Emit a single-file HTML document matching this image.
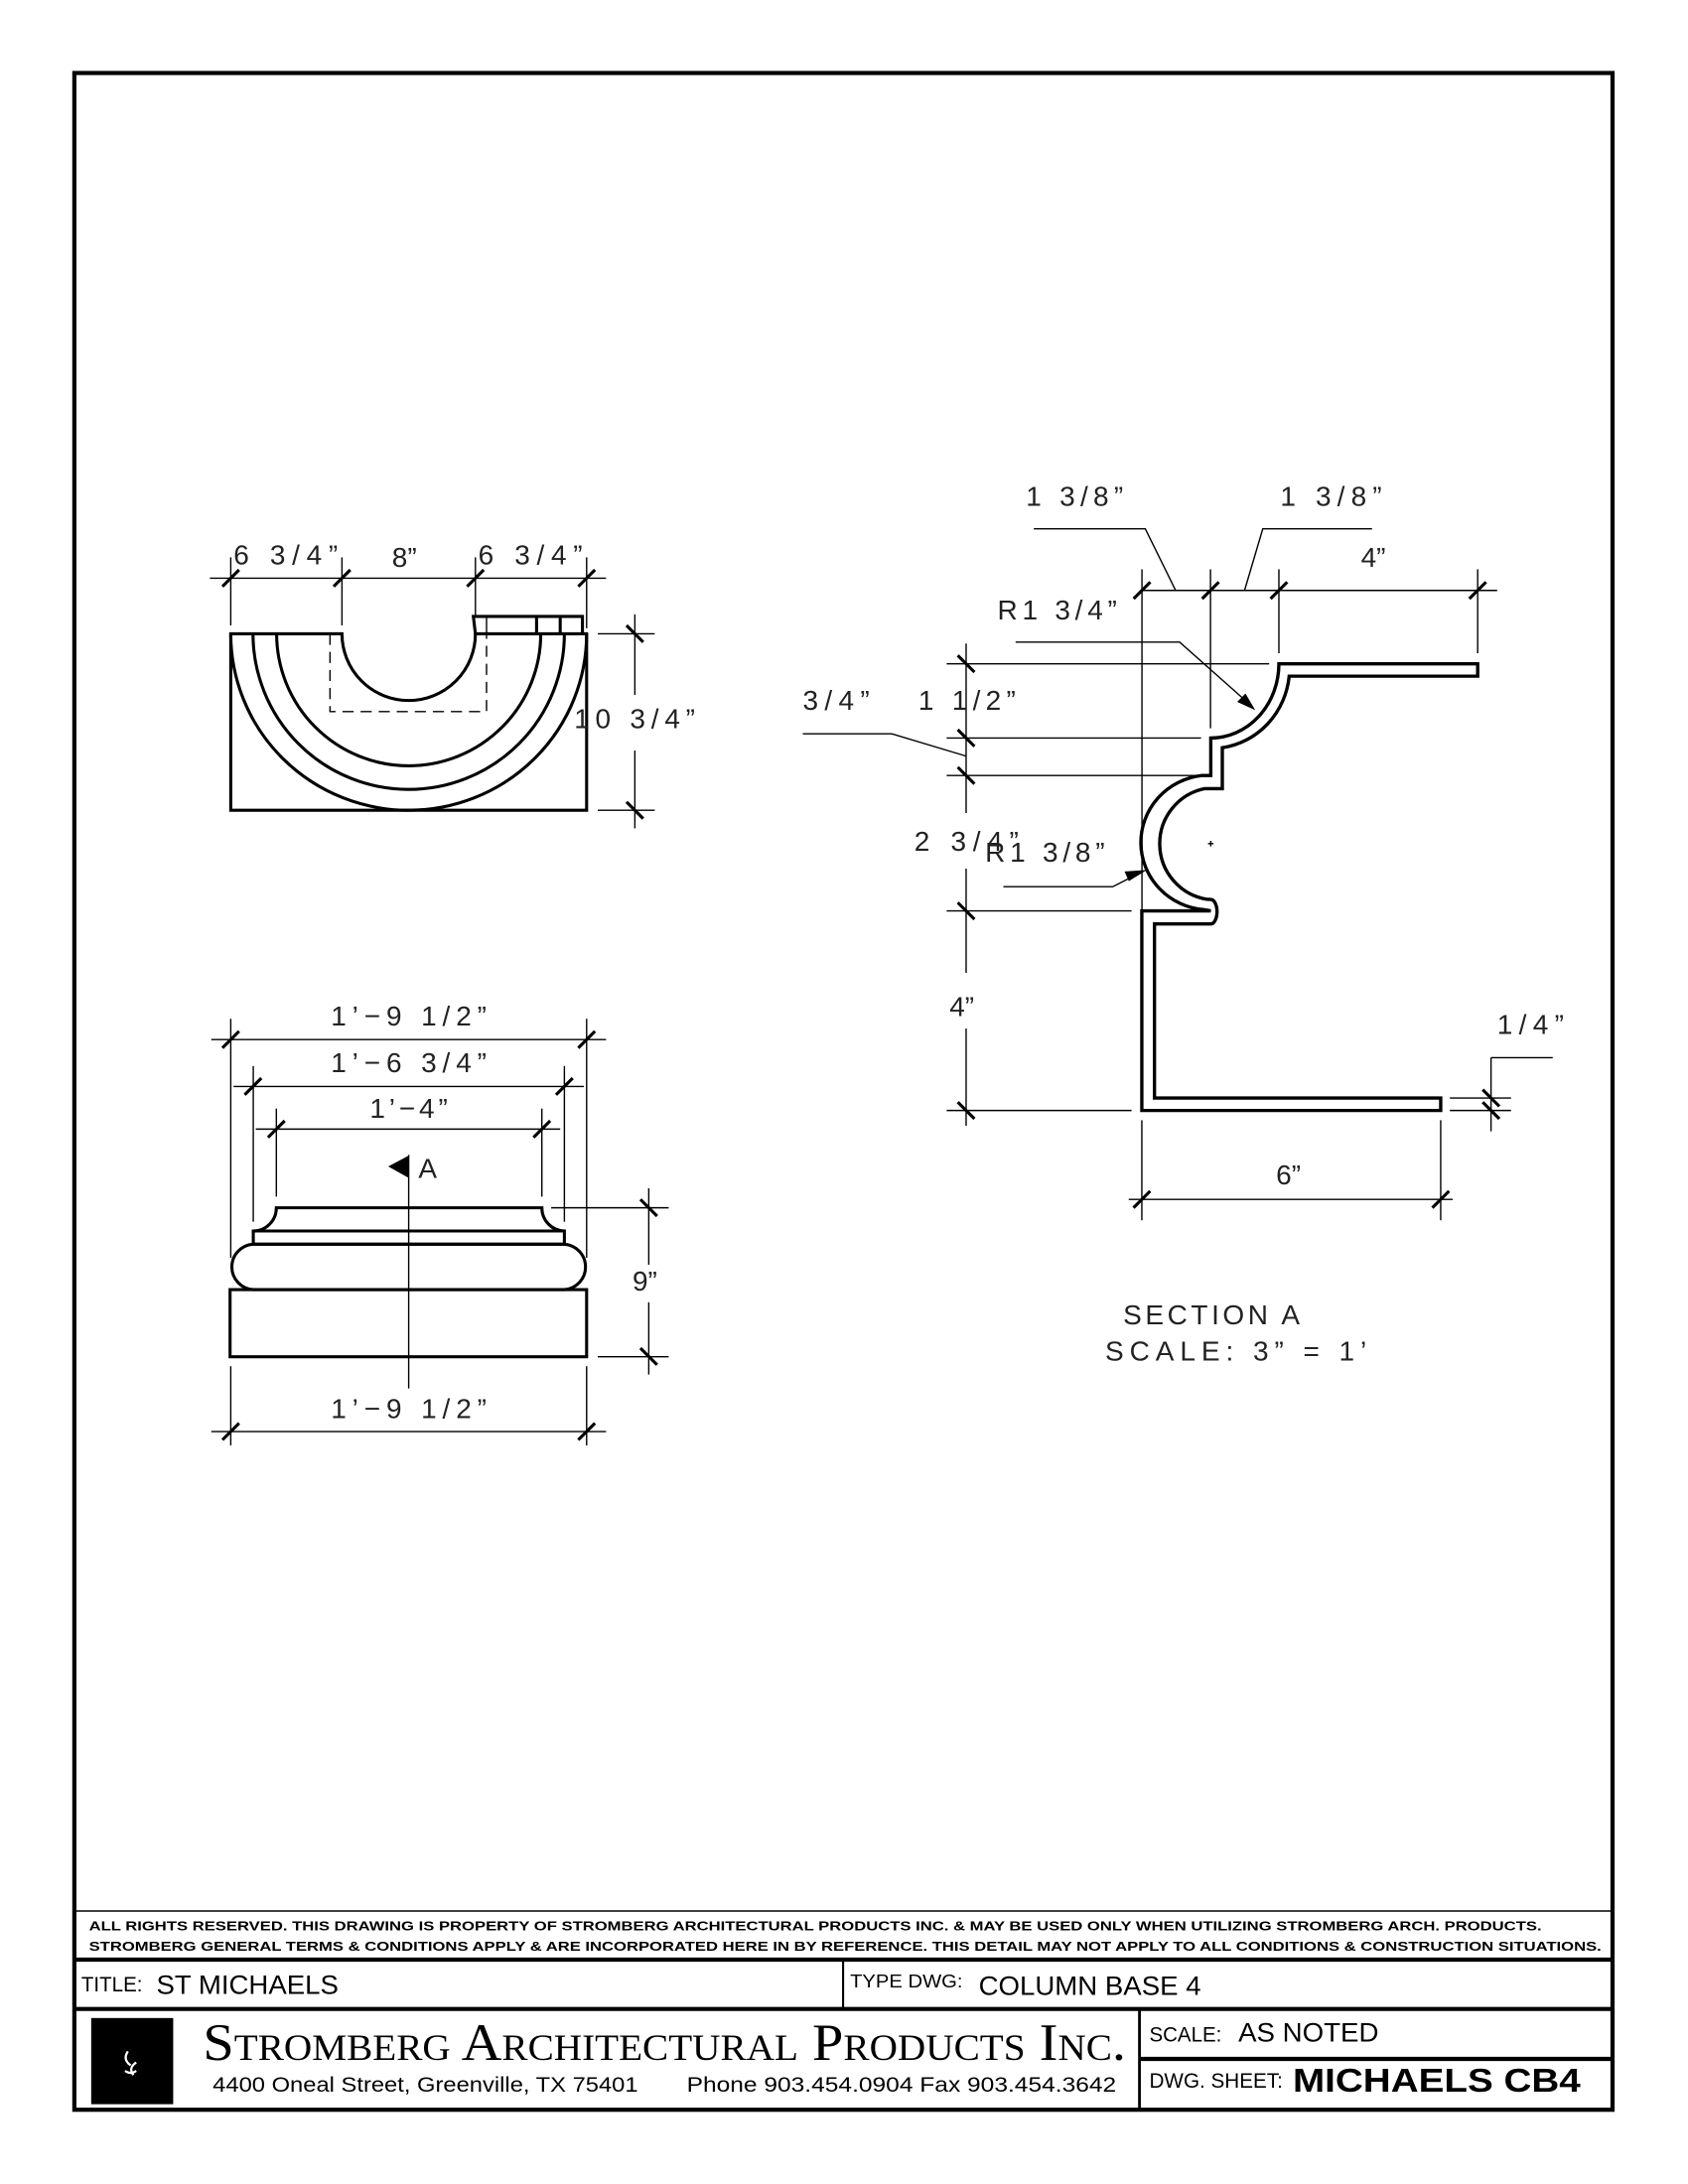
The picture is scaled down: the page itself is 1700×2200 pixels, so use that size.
<!DOCTYPE html>
<html><head><meta charset="utf-8"><style>
html,body{margin:0;padding:0;background:#fff;}
svg{display:block;}
.d{font-family:"Liberation Sans",sans-serif;font-size:20px;fill:#222;}
.t{font-family:"Liberation Sans",sans-serif;fill:#000;}
</style></head><body>
<svg width="1700" height="2200" viewBox="0 0 1214.3 1571.4" xmlns="http://www.w3.org/2000/svg">
<rect x="0" y="0" width="1214.3" height="1571.4" fill="#fff"/>
<!-- frame -->
<rect x="53.5" y="52.5" width="1106.5" height="1465.5" fill="none" stroke="#000" stroke-width="3"/>
<line x1="53.5" y1="1375" x2="1160" y2="1375" stroke="#000" stroke-width="1"/>
<line x1="53.5" y1="1410" x2="1160" y2="1410" stroke="#000" stroke-width="3"/>
<line x1="53.5" y1="1445.5" x2="1160" y2="1445.5" stroke="#000" stroke-width="3"/>
<line x1="606.5" y1="1410" x2="606.5" y2="1445.5" stroke="#000" stroke-width="1.5"/>
<line x1="819.7" y1="1445.5" x2="819.7" y2="1518" stroke="#000" stroke-width="2"/>
<line x1="819.7" y1="1481.4" x2="1160" y2="1481.4" stroke="#000" stroke-width="3"/>

<!-- title block text -->
<text class="t" x="64" y="1389" font-size="9.5" font-weight="bold" textLength="1045" lengthAdjust="spacingAndGlyphs">ALL RIGHTS RESERVED. THIS DRAWING IS PROPERTY OF STROMBERG ARCHITECTURAL PRODUCTS INC. &amp; MAY BE USED ONLY WHEN UTILIZING STROMBERG ARCH. PRODUCTS.</text>
<text class="t" x="64" y="1403.5" font-size="9.5" font-weight="bold" textLength="1088" lengthAdjust="spacingAndGlyphs">STROMBERG GENERAL TERMS &amp; CONDITIONS APPLY &amp; ARE INCORPORATED HERE IN BY REFERENCE. THIS DETAIL MAY NOT APPLY TO ALL CONDITIONS &amp; CONSTRUCTION SITUATIONS.</text>
<text class="t" x="58.5" y="1433" font-size="15" textLength="44" lengthAdjust="spacingAndGlyphs">TITLE:</text>
<text class="t" x="112.5" y="1434.5" font-size="19" textLength="131" lengthAdjust="spacingAndGlyphs">ST MICHAELS</text>
<text class="t" x="611.5" y="1430" font-size="13.5" textLength="81" lengthAdjust="spacingAndGlyphs">TYPE DWG:</text>
<text class="t" x="704" y="1435.5" font-size="19" textLength="160" lengthAdjust="spacingAndGlyphs">COLUMN BASE 4</text>
<rect x="65.6" y="1452" width="59" height="62" fill="#000"/>
<path d="M92 1476 q-4 6 2 10 M98 1484 q-6 4 -2 9 M90 1490 q4 3 8 0" stroke="#fff" stroke-width="1.6" fill="none"/>
<text x="146" y="1482" font-family="'Liberation Serif',serif" font-size="38" font-variant="small-caps" textLength="664" lengthAdjust="spacingAndGlyphs" fill="#000">Stromberg Architectural Products Inc.</text>
<text class="t" x="153" y="1505" font-size="15" textLength="306" lengthAdjust="spacingAndGlyphs">4400 Oneal Street, Greenville, TX  75401</text>
<text class="t" x="494" y="1505" font-size="15" textLength="309" lengthAdjust="spacingAndGlyphs">Phone 903.454.0904   Fax 903.454.3642</text>
<text class="t" x="826.8" y="1469" font-size="15" textLength="52" lengthAdjust="spacingAndGlyphs">SCALE:</text>
<text class="t" x="890.8" y="1469" font-size="19" textLength="101" lengthAdjust="spacingAndGlyphs">AS NOTED</text>
<text class="t" x="826.8" y="1502" font-size="15" textLength="96" lengthAdjust="spacingAndGlyphs">DWG. SHEET:</text>
<text class="t" x="930" y="1505" font-size="24" font-weight="bold" textLength="207" lengthAdjust="spacingAndGlyphs">MICHAELS CB4</text>

<!-- ================= PLAN VIEW ================= -->
<g stroke="#000" fill="none">
<g stroke-width="2.2">
<path d="M166 456 L246 456 A48 48 0 0 0 342 456 L422 456 L422 583 L166 583 Z"/>
<path d="M166 456 A128 127 0 0 0 422 456"/>
<path d="M182 456 A112 112 0 0 0 406 456"/>
<path d="M199 456 A95 95 0 0 0 389 456"/>
<path d="M342 456 L340.5 443.5 L419 443.5 L419 456"/>
<line x1="386" y1="443.5" x2="386" y2="456"/>
<line x1="403" y1="443.5" x2="403" y2="456"/>
</g>
<line x1="350" y1="443.5" x2="350" y2="456" stroke-width="1"/>
<path d="M237.4 456 L237.4 512 L350 512 L350 456" stroke-width="1" stroke-dasharray="8,5"/>
<!-- dims -->
<g stroke-width="1">
<line x1="151" y1="416" x2="436" y2="416"/>
<line x1="166" y1="401" x2="166" y2="450"/>
<line x1="246" y1="401" x2="246" y2="450"/>
<line x1="342" y1="401" x2="342" y2="443"/>
<line x1="422" y1="401" x2="422" y2="452"/>
<line x1="456.7" y1="442" x2="456.7" y2="500"/>
<line x1="456.7" y1="540" x2="456.7" y2="596"/>
<line x1="430" y1="456" x2="471" y2="456"/>
<line x1="430" y1="583" x2="471" y2="583"/>
</g>
<g stroke-width="2.2">
<line x1="160" y1="422" x2="172" y2="410"/>
<line x1="240" y1="422" x2="252" y2="410"/>
<line x1="336" y1="422" x2="348" y2="410"/>
<line x1="416" y1="422" x2="428" y2="410"/>
<line x1="450.7" y1="450" x2="462.7" y2="462"/>
<line x1="450.7" y1="577" x2="462.7" y2="589"/>
</g>
</g>
<text class="d" x="168" y="406" textLength="75">6 3/4”</text>
<text class="d" x="282" y="408">8”</text>
<text class="d" x="344" y="406" textLength="75">6 3/4”</text>
<text class="d" x="413" y="524" textLength="87">10 3/4”</text>

<!-- ================= ELEVATION ================= -->
<g stroke="#000" fill="none">
<g stroke-width="2.2">
<path d="M198.8 869 L389.8 869 A16.5 16.7 0 0 0 406 885.7 L406 895.2 L182.2 895.2 L182.2 885.7 A16.5 16.7 0 0 0 198.8 869 Z"/>
<line x1="182.2" y1="885.7" x2="406" y2="885.7"/>
<path d="M182 895.2 L406 895.2 A16.5 16.4 0 0 1 406 927.9 L182 927.9 A16.5 16.4 0 0 1 182 895.2 Z"/>
<rect x="165.5" y="927.9" width="256.5" height="48.3"/>
</g>
<g stroke-width="1">
<line x1="294" y1="831" x2="294" y2="999"/>
<line x1="152" y1="748" x2="436" y2="748"/>
<line x1="166" y1="733" x2="166" y2="905"/>
<line x1="422" y1="733" x2="422" y2="905"/>
<line x1="168" y1="781.7" x2="420" y2="781.7"/>
<line x1="182.2" y1="767" x2="182.2" y2="879"/>
<line x1="406" y1="767" x2="406" y2="879"/>
<line x1="184" y1="812.4" x2="403" y2="812.4"/>
<line x1="198.8" y1="797.6" x2="198.8" y2="861"/>
<line x1="389.8" y1="797.6" x2="389.8" y2="861"/>
<line x1="466.7" y1="855" x2="466.7" y2="910"/>
<line x1="466.7" y1="937" x2="466.7" y2="989"/>
<line x1="396.5" y1="869" x2="481" y2="869"/>
<line x1="430" y1="976.2" x2="481" y2="976.2"/>
<line x1="152" y1="1030" x2="436" y2="1030"/>
<line x1="166" y1="983" x2="166" y2="1040"/>
<line x1="422" y1="983" x2="422" y2="1040"/>
</g>
<g stroke-width="2.2">
<line x1="160" y1="754" x2="172" y2="742"/>
<line x1="416" y1="754" x2="428" y2="742"/>
<line x1="176" y1="787.7" x2="188" y2="775.7"/>
<line x1="400" y1="787.7" x2="412" y2="775.7"/>
<line x1="192.8" y1="818.4" x2="204.8" y2="806.4"/>
<line x1="383.8" y1="818.4" x2="395.8" y2="806.4"/>
<line x1="460.7" y1="863" x2="472.7" y2="875"/>
<line x1="460.7" y1="970" x2="472.7" y2="982"/>
<line x1="160" y1="1036" x2="172" y2="1024"/>
<line x1="416" y1="1036" x2="428" y2="1024"/>
</g>
</g>
<path d="M279.3 839.3 L294.1 831.4 L294.1 847.6 Z" fill="#000"/>
<text class="d" x="301" y="847.6">A</text>
<text class="d" x="238" y="738" textLength="112">1’−9 1/2”</text>
<text class="d" x="238" y="771.4" textLength="112">1’−6 3/4”</text>
<text class="d" x="266" y="804.3" textLength="56">1’−4”</text>
<text class="d" x="455" y="928.6">9”</text>
<text class="d" x="238" y="1020.3" textLength="112">1’−9 1/2”</text>

<!-- ================= SECTION ================= -->
<g stroke="#000" fill="none">
<path stroke-width="2.4" stroke-linejoin="miter" d="M1063 477.6 L920 477.6 A49 53.5 0 0 1 871 531 L871 558 L864.5 558 A49.5 48.5 0 0 0 866 654.5 L871 655.4 L821.4 655.4 L821.4 799 L1036.4 799 L1036.4 790 L830.5 790 L830.5 664.8 L871 664.8 A4.5 8.8 0 0 0 871 647.2 L868 647 A40.5 40.5 0 0 1 866.6 567.4 L879.3 567.4 L879.3 538 A56.5 58 0 0 0 927.4 486.5 L1063 486.5 Z"/>
<g stroke-width="1">
<path d="M869 607 h4 M871 605 v4"/>
<line x1="821" y1="424.8" x2="1077" y2="424.8"/>
<line x1="821.5" y1="409.6" x2="821.5" y2="655"/>
<line x1="870.8" y1="409.6" x2="870.8" y2="524"/>
<line x1="920" y1="409.6" x2="920" y2="470"/>
<line x1="1063" y1="409.6" x2="1063" y2="470"/>
<polyline points="743.7,380.5 823.9,380.5 845.7,424.8"/>
<polyline points="987,380.5 908.4,380.5 895.3,424.8"/>
<polyline points="730.6,462 848.6,462 897,505"/>
<polyline points="577.5,528 641.6,528 695,544"/>
<polyline points="721.8,638 800.5,638 818,629"/>
<line x1="695" y1="463" x2="695" y2="585"/>
<line x1="695" y1="625" x2="695" y2="700"/>
<line x1="695" y1="740" x2="695" y2="810"/>
<line x1="681" y1="477.6" x2="913" y2="477.6"/>
<line x1="681" y1="531" x2="864" y2="531"/>
<line x1="681" y1="558" x2="864" y2="558"/>
<line x1="681" y1="655.4" x2="814" y2="655.4"/>
<line x1="681" y1="799" x2="814" y2="799"/>
<line x1="812" y1="863" x2="1045" y2="863"/>
<line x1="821.4" y1="806" x2="821.4" y2="878"/>
<line x1="1036.4" y1="806" x2="1036.4" y2="878"/>
<line x1="1043" y1="790" x2="1087" y2="790"/>
<line x1="1043" y1="799" x2="1087" y2="799"/>
<line x1="1072.6" y1="761" x2="1072.6" y2="814"/>
<line x1="1072.6" y1="761" x2="1117" y2="761"/>
</g>
<g stroke-width="2.2">
<line x1="815.5" y1="430.8" x2="827.5" y2="418.8"/>
<line x1="864.8" y1="430.8" x2="876.8" y2="418.8"/>
<line x1="914" y1="430.8" x2="926" y2="418.8"/>
<line x1="1057" y1="430.8" x2="1069" y2="418.8"/>
<line x1="689" y1="471.6" x2="701" y2="483.6"/>
<line x1="689" y1="525" x2="701" y2="537"/>
<line x1="689" y1="552" x2="701" y2="564"/>
<line x1="689" y1="649.4" x2="701" y2="661.4"/>
<line x1="689" y1="793" x2="701" y2="805"/>
<line x1="815.4" y1="869" x2="827.4" y2="857"/>
<line x1="1030.4" y1="869" x2="1042.4" y2="857"/>
<line x1="1066.6" y1="784" x2="1078.6" y2="796"/>
<line x1="1066.6" y1="793" x2="1078.6" y2="805"/>
</g>
</g>
<path d="M903 511 L890 505 L896 499 Z" fill="#000"/>
<path d="M825 626 L812 634 L809 627 Z" fill="#000"/>
<text class="d" x="738" y="364" textLength="70">1 3/8”</text>
<text class="d" x="921" y="364" textLength="73">1 3/8”</text>
<text class="d" x="979" y="408">4”</text>
<text class="d" x="717.5" y="445.7" textLength="86">R1 3/4”</text>
<text class="d" x="577.5" y="510.7" textLength="48">3/4”</text>
<text class="d" x="660.6" y="510.7" textLength="70">1 1/2”</text>
<text class="d" x="657.7" y="612" textLength="75">2 3/4”</text>
<text class="d" x="708.7" y="620" textLength="86">R1 3/8”</text>
<text class="d" x="683" y="731">4”</text>
<text class="d" x="918" y="852">6”</text>
<text class="d" x="1077" y="744" textLength="48">1/4”</text>
<text class="d" x="808" y="953" textLength="127">SECTION    A</text>
<text class="d" x="795" y="979" textLength="188">SCALE:   3”  =  1’</text>
</svg>
</body></html>
